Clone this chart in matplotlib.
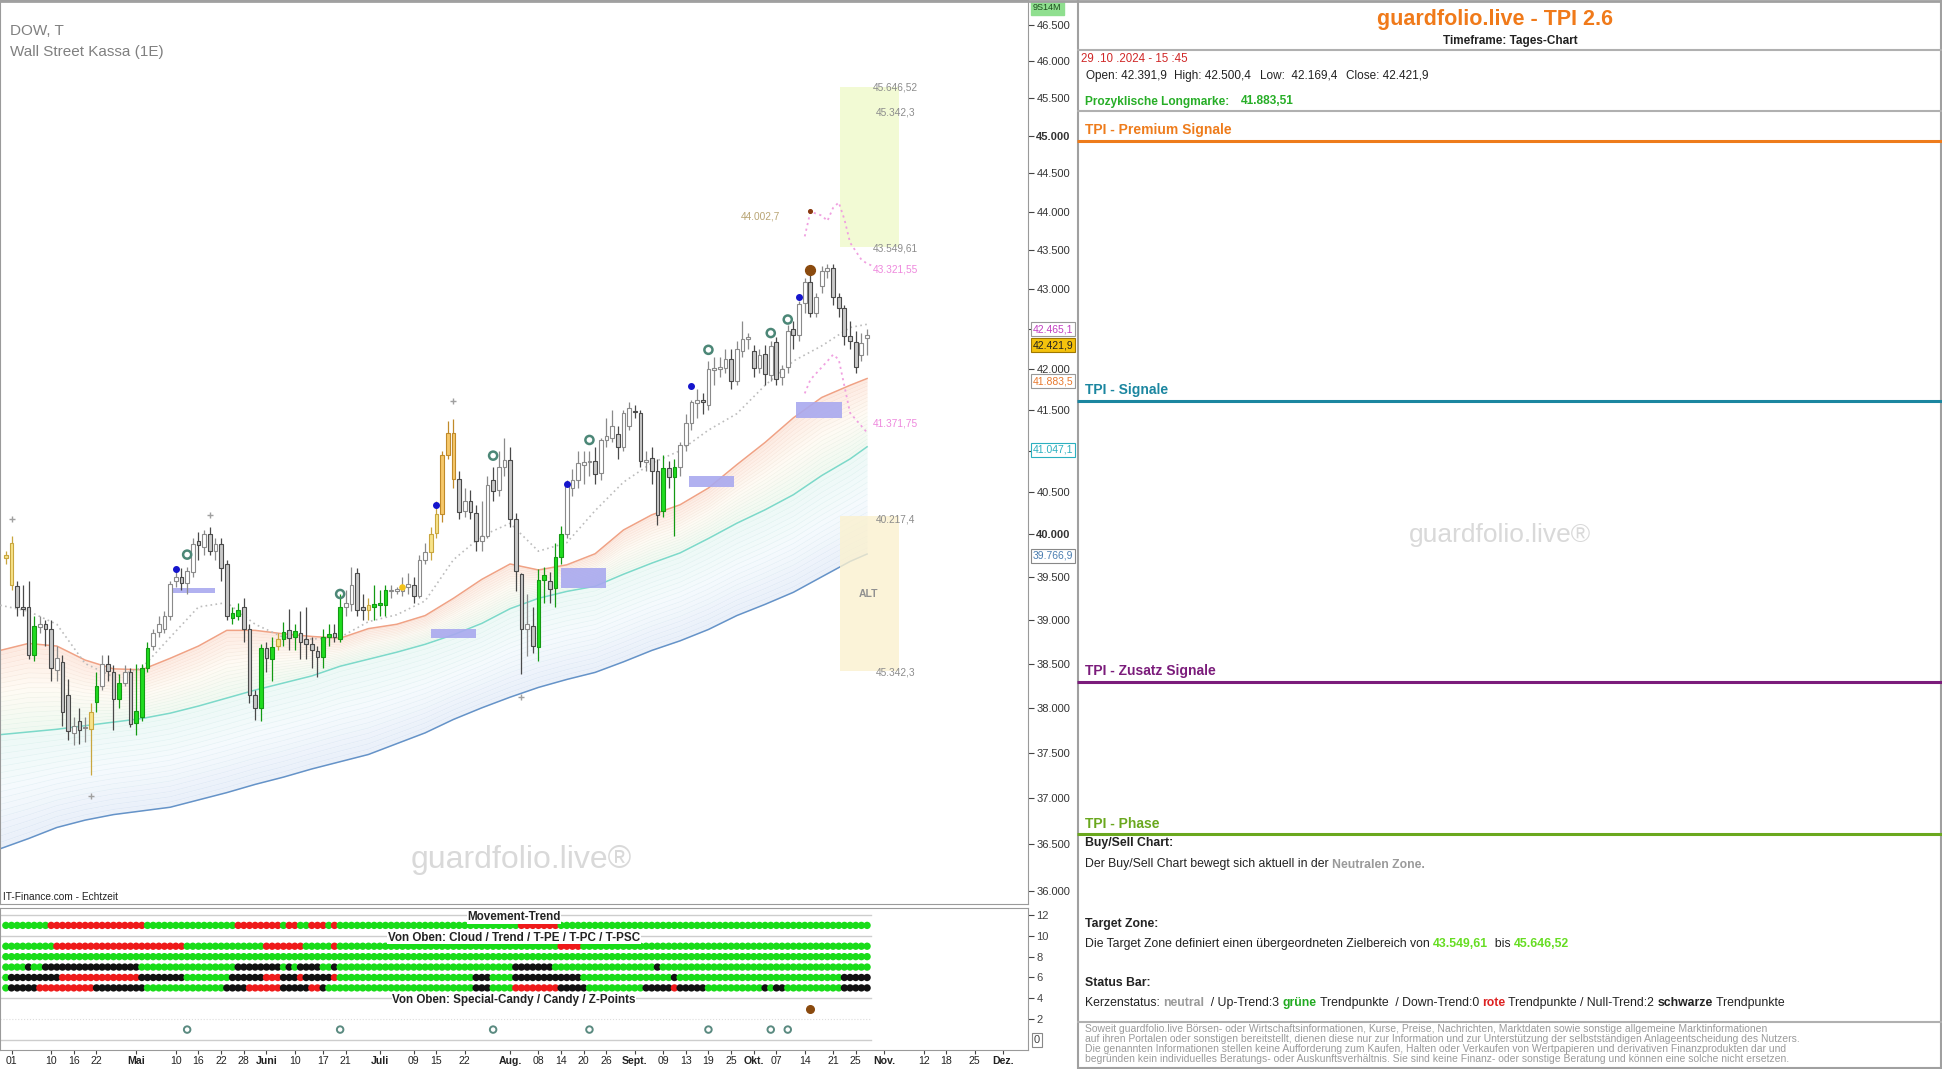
import numpy as np
import pandas as pd
import matplotlib
matplotlib.use("Agg")
import matplotlib.pyplot as plt
from matplotlib.patches import Rectangle
from matplotlib.ticker import NullLocator
from matplotlib.colors import to_rgb

plt.rcParams['font.family'] = ['Liberation Sans', 'DejaVu Sans']

# ---------------------------------------------------------------- data
first_day = '2024-03-29'          # first candle (index -1), 2024-04-01 is index 0
opens = [39720, 39900, 39390, 39150, 39150, 38600, 38920, 38950, 38900, 38430,
         38520, 38150, 37720, 37850, 37770, 37760, 38060, 38250, 38500, 38400,
         38100, 38280, 38400, 37830, 37900, 38450, 38700, 38860, 38900, 39050,
         39450, 39500, 39430, 39560, 39920, 39850, 40000, 39800, 39880, 39650,
         39020, 39050, 39150, 38900, 38150, 38000, 38680, 38550, 38700, 38780,
         38880, 38800, 38850, 38780, 38720, 38640, 38580, 38800, 38850, 38780,
         39150, 39180, 39550, 39150, 39120, 39150, 39170, 39170, 39330, 39340,
         39340, 39380, 39400, 39280, 39700, 39790, 40020, 40245, 40950, 41220,
         40660, 40270, 40400, 40255, 39920, 39980, 40650, 40530, 40800, 40890,
         40175, 39530, 38900, 38930, 38690, 39460, 39450, 39370, 39730, 40000,
         40550, 40650, 40830, 40860, 40880, 40730, 41130, 41150, 41200, 41050,
         41300, 41480, 41460, 40860, 40910, 40750, 40280, 40790, 40680, 40800,
         41070, 41340, 41580, 41620, 41560, 41990, 42000, 42020, 42130, 41850,
         42230, 42380, 42230, 42010, 42190, 41930, 42340, 41900, 42030, 42500,
         42430, 42830, 43100, 42700, 43040, 43240, 43280, 42900, 42760, 42410,
         42340, 42180, 42391.9]
highs = [39800, 39980, 39450, 39400, 39450, 39050, 39050, 39000, 39000, 38700,
         38600, 38330, 37900, 38000, 37900, 38050, 38400, 38600, 38600, 38480,
         38380, 38480, 38450, 38500, 38500, 38750, 38900, 39050, 39100, 39450,
         39600, 39600, 39620, 39950, 40030, 40050, 40080, 39950, 39950, 39700,
         39150, 39200, 39250, 38950, 38200, 38720, 38750, 38800, 38850, 38980,
         39130, 38950, 39100, 39150, 38800, 38700, 38900, 38950, 38950, 39300,
         39350, 39620, 39600, 39300, 39250, 39400, 39350, 39400, 39400, 39380,
         39500, 39550, 39500, 39750, 39900, 40080, 40400, 41000, 41355, 41380,
         40750, 40550, 40530, 40350, 40400, 40700, 40800, 41000, 41150, 41050,
         40250, 39550, 39300, 39150, 39590, 39620, 39560, 39900, 40100, 40650,
         40780, 41000, 41000, 41000, 41050, 41150, 41400, 41500, 41300, 41500,
         41600, 41560, 41500, 41000, 41050, 40900, 40950, 40880, 40900, 41100,
         41450, 41620, 41750, 41700, 42100, 42150, 42150, 42250, 42250, 42350,
         42600, 42450, 42300, 42250, 42300, 42350, 42400, 42050, 42550, 42600,
         42850, 43150, 43180, 42950, 43300, 43320, 43330, 42950, 42800, 42600,
         42480, 42450, 42500.4]
lows = [39650, 39350, 39040, 39050, 38550, 38530, 38850, 38700, 38300, 38300,
        37800, 37640, 37590, 37600, 37620, 37250, 37950, 38200, 38300, 37750,
        38000, 38250, 37780, 37700, 37850, 38400, 38650, 38800, 38850, 39000,
        39380, 39350, 39300, 39500, 39700, 39750, 39750, 39700, 39450, 39000,
        38950, 39000, 38750, 38050, 37860, 37850, 38400, 38300, 38650, 38700,
        38650, 38650, 38550, 38550, 38450, 38350, 38450, 38700, 38750, 38750,
        39050, 39100, 39050, 39000, 39000, 39000, 39050, 39050, 39250, 39300,
        39280, 39300, 39200, 39250, 39650, 39700, 39950, 40150, 40900, 40550,
        40175, 40200, 40180, 39800, 39800, 39950, 40400, 40450, 40700, 40080,
        39330, 38380, 38590, 38620, 38530, 39200, 39200, 39150, 39650, 39950,
        40450, 40550, 40600, 40700, 40600, 40650, 41050, 41100, 40900, 41000,
        41250, 41400, 40800, 40750, 40600, 40110, 40200, 40550, 39980, 40700,
        41000, 41250, 41400, 41450, 41500, 41800, 41900, 41950, 41750, 41800,
        42150, 42250, 41900, 41950, 41800, 41850, 41800, 41800, 41950, 42250,
        42350, 42700, 42650, 42650, 42950, 43150, 42800, 42650, 42300, 42250,
        41950, 42100, 42169.4]
closes = [39760, 39400, 39150, 39130, 38600, 38930, 38950, 38900, 38450, 38560,
          37950, 37740, 37800, 37750, 37780, 37950, 38250, 38500, 38420, 38100,
          38280, 38400, 37820, 37960, 38450, 38680, 38850, 38950, 39050, 39420,
          39500, 39430, 39570, 39890, 39870, 40000, 39800, 39880, 39600, 39050,
          39080, 39120, 38900, 38150, 38000, 38680, 38560, 38690, 38780, 38860,
          38790, 38870, 38750, 38720, 38650, 38580, 38800, 38840, 38800, 39150,
          39200, 39400, 39120, 39120, 39170, 39180, 39200, 39350, 39350, 39350,
          39390, 39420, 39280, 39700, 39790, 40000, 40245, 40950, 41220, 40660,
          40260, 40400, 40260, 39920, 39980, 40590, 40510, 40800, 40890, 40175,
          39570, 38900, 38950, 38700, 39460, 39520, 39360, 39730, 40000, 40610,
          40650, 40850, 40860, 40880, 40720, 41130, 41180, 41300, 41050, 41460,
          41520, 41470, 40870, 40890, 40750, 40230, 40790, 40680, 40800, 41070,
          41340, 41590, 41620, 41590, 42000, 42010, 42030, 42130, 41850, 42250,
          42370, 42400, 42010, 42180, 41940, 42290, 41880, 42000, 42480, 42430,
          42810, 43100, 42700, 42900, 43240, 43270, 42900, 42760, 42410, 42350,
          42030, 42330, 42421.9]
# w = white/up, g = grey/down, G = green, y = yellow, o = orange special candle
candle_kind = ("yygggGwggw" "ggwgwyGwgg" "GwgGGGwwww" "wgwwgwgwgg" "GGgggGgGyG"
               "gGggggGGgG" "wwggyGGGww" "wwgwwyyooo" "gwggwwgwwg" "ggwgGGgGGw"
               "wwwwgwwwgw" "wggwggGgGw" "wwwgwwwwgw" "wwgwgwgwwg" "wwgwwwgggg" "gww")

# moving-average ribbon, sampled every 5 candles
ribbon_x = [-2, 3, 8, 13, 18, 23, 28, 33, 38, 43, 48, 53, 58, 63, 68, 73,
            78, 83, 88, 93, 98, 103, 108, 113, 118, 123, 128, 133, 138, 143, 148, 151]
ma_orange = [38650, 38730, 38700, 38540, 38440, 38430, 38560, 38700, 38880, 38880,
             38840, 38810, 38790, 38900, 38950, 39050, 39250, 39470, 39650, 39580,
             39640, 39770, 40050, 40230, 40350, 40550, 40830, 41100, 41400, 41650,
             41800, 41883.5]
ma_teal = [37700, 37730, 37760, 37800, 37840, 37880, 37940, 38020, 38110, 38200,
           38280, 38360, 38470, 38550, 38630, 38720, 38830, 38960, 39130, 39250,
           39330, 39390, 39530, 39660, 39780, 39950, 40130, 40290, 40470, 40700,
           40900, 41047.1]
ma_blue = [36450, 36560, 36680, 36760, 36820, 36860, 36900, 36980, 37060, 37150,
           37230, 37320, 37400, 37480, 37600, 37720, 37870, 38000, 38120, 38230,
           38320, 38400, 38520, 38650, 38760, 38890, 39050, 39180, 39320, 39500,
           39680, 39766.9]
ma_dotted = [39170, 39100, 38950, 38500, 38350, 38450, 38800, 39150, 39200, 38950,
             38800, 38780, 38800, 38980, 39060, 39220, 39700, 39980, 40130, 39800,
             39900, 40280, 40620, 40850, 41000, 41250, 41450, 41800, 42100, 42290,
             42520, 42560]

# projection paths (pink dotted)
proj_hi_x = [140, 141, 143, 144, 145, 146, 147, 148, 150, 151, 152]
proj_hi = [43680, 44000, 43950, 43880, 44050, 44120, 43900, 43600, 43380, 43330, 43300]
proj_lo_x = [140, 141, 144, 145, 146, 147, 148, 150, 151]
proj_lo = [41700, 41870, 42100, 42180, 42120, 41790, 41460, 41300, 41220]

# violet boxes
box_start = [28.5, 74, 97, 119.5, 138.5]
box_end = [36, 82, 105, 127.5, 146.5]
box_low = [39310, 38790, 39370, 40560, 41400]
box_high = [39370, 38900, 39600, 40700, 41590]

# zones
target_low, target_high = 43549.61, 45646.52
alt_low, alt_high = 38420, 40217.4

# markers
plus_x = [0, 14, 35, 78, 90]
plus_y = [40180, 37020, 40230, 41610, 38120]
blue_x = [29, 75, 98, 120, 139]
blue_y = [39590, 40350, 40600, 41790, 42900]
yellow_x = [69]
yellow_y = [39380]
ring_x = [31, 58, 85, 102, 123, 134, 137]
ring_y = [39760, 39300, 40940, 41130, 42240, 42450, 42620]
special_x = [141]
special_y = [43250]
target_pt_x = [141]
target_pt_y = [44002.7]

# status bar rows: (first, last, colour) ; default green
rows_y = [11, 9, 8, 7, 6, 5]
row_movement = [(7, 23, 'R'), (40, 47, 'R'), (49, 50, 'R'), (53, 55, 'R'), (57, 57, 'R'), (90, 96, 'R')]
row_cloud = [(8, 30, 'R'), (45, 51, 'R'), (57, 57, 'R'), (97, 100, 'R')]
row_trend = []
row_tpe = [(3, 3, 'K'), (6, 22, 'K'), (40, 47, 'K'), (49, 49, 'K'), (51, 54, 'K'), (57, 57, 'K'),
           (89, 95, 'K'), (114, 114, 'K')]
row_tpc = [(0, 8, 'K'), (9, 22, 'R'), (23, 30, 'K'), (39, 44, 'K'), (45, 47, 'R'), (48, 50, 'K'),
           (51, 51, 'R'), (52, 56, 'K'), (57, 57, 'R'), (82, 84, 'K'), (89, 100, 'K'),
           (117, 117, 'K'), (147, 151, 'K')]
row_tpsc = [(0, 4, 'K'), (5, 14, 'R'), (15, 23, 'K'), (38, 41, 'K'), (42, 47, 'R'), (48, 52, 'K'),
            (53, 54, 'R'), (55, 55, 'K'), (82, 84, 'K'), (89, 96, 'R'), (97, 101, 'K'),
            (112, 116, 'K'), (117, 117, 'R'), (118, 122, 'K'), (133, 133, 'K'),
            (135, 136, 'K'), (147, 151, 'K')]
candy_x = [141]
zpoint_x = [31, 58, 85, 102, 123, 134, 137]

tick_dates = ['2024-04-01', '2024-04-10', '2024-04-16', '2024-04-22', '2024-05-01', '2024-05-10',
              '2024-05-16', '2024-05-22', '2024-05-28', '2024-06-03', '2024-06-10', '2024-06-17',
              '2024-06-21', '2024-07-01', '2024-07-09', '2024-07-15', '2024-07-22', '2024-08-01',
              '2024-08-08', '2024-08-14', '2024-08-20', '2024-08-26', '2024-09-02', '2024-09-09',
              '2024-09-13', '2024-09-19', '2024-09-25', '2024-10-01', '2024-10-07', '2024-10-14',
              '2024-10-21', '2024-10-25', '2024-11-01', '2024-11-12', '2024-11-18', '2024-11-25',
              '2024-12-02']
tick_labels = ['01', '10', '16', '22', 'Mai', '10', '16', '22', '28', 'Juni', '10', '17', '21',
               'Juli', '09', '15', '22', 'Aug.', '08', '14', '20', '26', 'Sept.', '09', '13', '19',
               '25', 'Okt.', '07', '14', '21', '25', 'Nov.', '12', '18', '25', 'Dez.']
month_names = {'Mai', 'Juni', 'Juli', 'Aug.', 'Sept.', 'Okt.', 'Nov.', 'Dez.'}

price_ticks = list(range(36000, 46501, 500))

# ---------------------------------------------------------------- figure
W, H = 1942, 1069
fig = plt.figure(figsize=(W / 100, H / 100), dpi=100)
fig.patch.set_facecolor('white')


def fx(px):
    return px / W


def fy(py):
    return 1 - py / H


def mix(c1, c2, f):
    a, b = np.array(to_rgb(c1)), np.array(to_rgb(c2))
    return tuple(a + (b - a) * f)


def mix3(c1, c2, c3, f):
    return mix(c1, c2, f * 2) if f < 0.5 else mix(c2, c3, (f - 0.5) * 2)


MAIN_R, MAIN_B = 1028, 904
GRAY = '#9a9a9a'
ax = fig.add_axes([0, fy(MAIN_B), fx(MAIN_R), MAIN_B / H])
ax.set_yscale('log')
ax.set_xlim(-2.03, 179.4)
ax.set_ylim(35860, 46840)
for s in ax.spines.values():
    s.set_color(GRAY)
ax.xaxis.set_visible(False)
ax.yaxis.tick_right()
ax.set_yticks(price_ticks, labels=[f"{v / 1000:.3f}" for v in price_ticks])
ax.yaxis.set_minor_locator(NullLocator())
ax.tick_params(axis='y', which='major', length=4, pad=2, labelsize=8, colors='#444444', width=0.8)
for t in ax.get_yticklabels():
    t.set_color('#333333')
    if t.get_text() in ('45.000', '40.000'):
        t.set_fontweight('bold')

# ribbon
rx = np.array(ribbon_x, float)
lo_o, lo_t, lo_b = np.log(ma_orange), np.log(ma_teal), np.log(ma_blue)
N = 18
for k in range(N):
    f0, f1 = k / N, (k + 1) / N
    y0 = np.exp(lo_o + (lo_t - lo_o) * f0)
    y1 = np.exp(lo_o + (lo_t - lo_o) * f1)
    ax.fill_between(rx, y0, y1, color=mix3('#fde9e0', '#fffbf4', '#eff9f0', (f0 + f1) / 2), lw=0, zorder=1)
    ax.plot(rx, y0, color=mix('#f3b9a4', '#a6e0d0', f0), lw=0.5, alpha=0.2, zorder=1.2)
    z0 = np.exp(lo_t + (lo_b - lo_t) * f0)
    z1 = np.exp(lo_t + (lo_b - lo_t) * f1)
    ax.fill_between(rx, z0, z1, color=mix3('#edf9f6', '#f5fafd', '#e9eff9', (f0 + f1) / 2), lw=0, zorder=1)
    ax.plot(rx, z0, color=mix('#a6e0d0', '#a4bde3', f0), lw=0.5, alpha=0.18, zorder=1.2)
ax.plot(rx, ma_orange, color='#f0a285', lw=1.1, zorder=2)
ax.plot(rx, ma_teal, color='#7cd9ca', lw=1.1, zorder=2)
ax.plot(rx, ma_blue, color='#6593c8', lw=1.1, zorder=2)
ax.plot(rx, ma_dotted, color='#bcbcbc', lw=1.2, ls=(0, (1, 2)), zorder=3)

# zones
ZX0, ZX1 = 146.3, 156.7
ax.add_patch(Rectangle((ZX0, target_low), ZX1 - ZX0, target_high - target_low,
                       fc='#f2fad4', ec='none', zorder=0.8))
ax.add_patch(Rectangle((ZX0, alt_low), ZX1 - ZX0, alt_high - alt_low,
                       fc='#fbf1cf', ec='none', alpha=0.8, zorder=2.5))

# violet boxes
for a, b, lo, hi in zip(box_start, box_end, box_low, box_high):
    ax.add_patch(Rectangle((a, lo), b - a, hi - lo, fc='#a9a9ef', ec='none', alpha=0.9, zorder=4))

# projection paths
ax.plot(proj_hi_x, proj_hi, color='#f0a0e0', lw=1.3, ls=(0, (1.2, 2)), zorder=3)
ax.plot(proj_lo_x, proj_lo, color='#f0a0e0', lw=1.3, ls=(0, (1.2, 2)), zorder=3)

# candles
xc = np.arange(-1, -1 + len(closes))
o, h, l, c = (np.array(v, float) for v in (opens, highs, lows, closes))
face = {'w': 'white', 'g': '#c8c8c8', 'G': '#1fdc1f', 'y': '#f7e38a', 'o': '#f6c86a'}
edge = {'w': '#8a8a8a', 'g': '#4a4a4a', 'G': '#139a13', 'y': '#c9a63e', 'o': '#c08a2a'}
kinds = np.array(list(candle_kind))
for k in 'wgGyo':
    m = kinds == k
    ax.vlines(xc[m], l[m], h[m], color=edge[k], lw=0.9, zorder=5)
    bot = np.minimum(o[m], c[m])
    top = np.maximum(o[m], c[m])
    ax.bar(xc[m], np.maximum(top - bot, 14), bottom=bot, width=0.68, color=face[k],
           edgecolor=edge[k], linewidth=0.8, zorder=6)

# markers
ax.scatter(plus_x, plus_y, marker='+', s=22, color='#a0a0a0', lw=1, zorder=7)
ax.scatter(blue_x, blue_y, s=16, color='#1515cc', zorder=7)
ax.scatter(yellow_x, yellow_y, s=14, color='#f2c21a', zorder=7)
ax.scatter(ring_x, ring_y, s=34, facecolor='none', edgecolor='#4c8777', lw=1.8, zorder=7)
ax.scatter(special_x, special_y, s=50, color='#8a4a0e', zorder=7)
ax.scatter(target_pt_x, target_pt_y, s=7, color='#8a3a10', zorder=7)

# zone labels
lab = dict(fontsize=7.3, va='center', ha='left', zorder=8)
ax.text(152, 45640, '45.646,52', color='#8c8c8c', **lab)
ax.text(152.5, 45310, '45.342,3', color='#8c8c8c', **lab)
ax.text(152, 43520, '43.549,61', color='#8c8c8c', **lab)
ax.text(152, 43260, '43.321,55', color='#ee88dd', **lab)
ax.text(152, 41330, '41.371,75', color='#ee88dd', **lab)
ax.text(152.5, 40180, '40.217,4', color='#8c8c8c', **lab)
ax.text(152.5, 38400, '45.342,3', color='#8c8c8c', **lab)
ax.text(135.6, 43940, '44.002,7', color='#b9a574', fontsize=7.3, va='center', ha='right', zorder=8)
ax.text(151.3, 39300, 'ALT', color='#909090', fontsize=7.5, fontweight='bold', ha='center', va='center', zorder=8)

# texts in main chart
ax.text(10 / MAIN_R, 1 - 31 / MAIN_B, 'DOW, T', transform=ax.transAxes, fontsize=11,
        color='#808080', va='center', ha='left')
ax.text(10 / MAIN_R, 1 - 52 / MAIN_B, 'Wall Street Kassa (1E)', transform=ax.transAxes,
        fontsize=11, color='#808080', va='center', ha='left')
ax.text(3 / MAIN_R, 1 - 897 / MAIN_B, 'IT-Finance.com - Echtzeit', transform=ax.transAxes,
        fontsize=7.3, color='#222222', va='center', ha='left')
ax.text(521 / MAIN_R, 1 - 860 / MAIN_B, 'guardfolio.live\u00ae', transform=ax.transAxes,
        fontsize=23, color='#d9d9d9', va='center', ha='center', zorder=0.5)

# value tags
tag_kw = dict(transform=ax.transAxes, ha='left', va='center', fontsize=7.5, clip_on=False, zorder=20)
ax.text(1 + 5 / MAIN_R, 1 - 8 / MAIN_B, '9S14M', color='#1d4d1d', fontsize=6.5,
        transform=ax.transAxes, ha='left', va='center', clip_on=False, zorder=20,
        bbox=dict(boxstyle='square,pad=0.25', fc='#8fdf8f', ec='#8fdf8f'))
tags = [(329, '42.465,1', '#c23ec2', 'white', '#999999'),
        (345, '42.421,9', '#222222', '#f4c20d', '#a07800'),
        (381, '41.883,5', '#e8782c', 'white', '#999999'),
        (450, '41.047,1', '#2bb0c0', 'white', '#2bb0c0'),
        (556, '39.766,9', '#4a7db0', 'white', '#888888')]
for py, s, tc, fc, ec in tags:
    ax.text(1 + 5 / MAIN_R, 1 - py / MAIN_B, s, color=tc,
            bbox=dict(boxstyle='square,pad=0.15', fc=fc, ec=ec, lw=0.8), **tag_kw)

# ---------------------------------------------------------------- status bar panel
ax2 = fig.add_axes([0, fy(1050), fx(MAIN_R), (1050 - 908) / H])
ax2.set_xlim(-2.03, 179.4)
ax2.set_ylim(-0.96, 12.67)
for s in ax2.spines.values():
    s.set_color(GRAY)
ax2.yaxis.tick_right()
ax2.set_yticks([2, 4, 6, 8, 10, 12])
ax2.yaxis.set_minor_locator(NullLocator())
ax2.tick_params(axis='y', length=4, pad=2, labelsize=8, colors='#444444', width=0.8)
ax2.text(1 + 6 / MAIN_R, 0, '0', transform=ax2.get_yaxis_transform(), fontsize=8,
         color='#444444', ha='left', va='center', clip_on=False,
         bbox=dict(boxstyle='square,pad=0.2', fc='white', ec='#888888', lw=0.8))

all_days = pd.bdate_range(first_day, '2024-12-31')
pos = {d: k - 1 for k, d in enumerate(all_days)}
ax2.set_xticks([pos[pd.Timestamp(d)] for d in tick_dates], labels=tick_labels)
ax2.xaxis.set_minor_locator(NullLocator())
ax2.tick_params(axis='x', length=3, pad=1.5, labelsize=7.6, colors='#444444', width=0.8)
for t in ax2.get_xticklabels():
    t.set_color('#222222')
    if t.get_text() in month_names:
        t.set_fontweight('bold')

xend = 151.7
for yv in (12, 10, 4, 0):
    ax2.plot([-2, xend], [yv, yv], color='#cdcdcd', lw=1, zorder=1)
for yv in (2, 6, 8):
    ax2.plot([-2, xend], [yv, yv], color='#dddddd', lw=0.8, ls=':', zorder=1)

dot_col = {'G': '#19dc19', 'R': '#ee1a1a', 'K': '#111111'}
idx_all = np.arange(-1, 152)
for yv, segs in zip(rows_y, [row_movement, row_cloud, row_trend, row_tpe, row_tpc, row_tpsc]):
    cols = np.array(['G'] * len(idx_all), dtype=object)
    for a, b, cc in segs:
        cols[(idx_all >= a) & (idx_all <= b)] = cc
    ax2.scatter(idx_all, np.full(len(idx_all), yv), s=28, c=[dot_col[v] for v in cols],
                linewidths=0, zorder=3)
ax2.scatter(candy_x, [3] * len(candy_x), s=30, color='#8a4a0e', zorder=3)
ax2.scatter(zpoint_x, [1] * len(zpoint_x), s=22, facecolor='none', edgecolor='#5a8a80', lw=1.4, zorder=3)

lbl = dict(transform=ax2.get_yaxis_transform(), ha='center', va='center', fontsize=8.4,
           fontweight='bold', color='#222222', zorder=5,
           bbox=dict(boxstyle='square,pad=0.05', fc='white', ec='none'))
ax2.text(0.5, 11.8, 'Movement-Trend', **lbl)
ax2.text(0.5, 9.8, 'Von Oben: Cloud / Trend / T-PE / T-PC / T-PSC', **lbl)
ax2.text(0.5, 3.85, 'Von Oben: Special-Candy / Candy / Z-Points', **lbl)

# ---------------------------------------------------------------- right info panel
axr = fig.add_axes([fx(1077), 0, fx(W - 1077), 1])
axr.set_xlim(1077, W)
axr.set_ylim(H, 0)
axr.axis('off')


def hline(y, color='#b0b0b0', lw=1.5):
    axr.plot([1077, W], [y, y], color=color, lw=lw, solid_capstyle='butt', clip_on=False)


def runs(x, y, parts, size=8.8):
    t = axr.text(x, y, parts[0][0], color=parts[0][1], fontweight=parts[0][2],
                 fontsize=size, va='center', ha='left')
    for s, col, wt in parts[1:]:
        t = axr.annotate(s, xy=(1, 0), xycoords=t, va='bottom', ha='left',
                         color=col, fontweight=wt, fontsize=size)
    return t


axr.plot([1078, 1078], [0, H], color='#a0a0a0', lw=1.5, clip_on=False)
axr.plot([W - 1, W - 1], [0, H], color='#a0a0a0', lw=1.5, clip_on=False)
hline(1, '#a0a0a0', 2)
hline(H - 1, '#a0a0a0', 1.5)

axr.text(1495, 20, 'guardfolio.live - TPI 2.6', color='#f07a1a', fontsize=15.5,
         fontweight='bold', ha='center', va='center')
axr.text(1510, 41, 'Timeframe: Tages-Chart', color='#222222', fontsize=8.5,
         fontweight='bold', ha='center', va='center')
hline(50)
axr.text(1081, 59.5, '29 .10 .2024 - 15 :45', color='#d02828', fontsize=8.3, va='center')
for xx, s in [(1086, 'Open: 42.391,9'), (1174, 'High: 42.500,4'),
              (1260, 'Low:  42.169,4'), (1346, 'Close: 42.421,9')]:
    axr.text(xx, 75.5, s, color='#222222', fontsize=8.5, va='center')
axr.text(1085, 101.5, 'Prozyklische Longmarke:', color='#27ae27', fontsize=8.6,
         fontweight='bold', va='center')
axr.text(1241, 101.5, '41.883,51', color='#27ae27', fontsize=8.6, fontweight='bold', va='center')
hline(111)

sections = [(130, 'TPI - Premium Signale', '#ee7c1c'),
            (390, 'TPI - Signale', '#1b86a0'),
            (671, 'TPI - Zusatz Signale', '#7b1c7b'),
            (823.6, 'TPI - Phase', '#6aa81e')]
for y, s, col in sections:
    axr.text(1085, y, s, color=col, fontsize=10, fontweight='bold', va='center')
    hline(y + 10.5, col, 2.2)

axr.text(1500, 535, 'guardfolio.live\u00ae', color='#d9d9d9', fontsize=19, ha='center', va='center')

BLK = '#222222'
runs(1085, 843.4, [('Buy/Sell Chart:', BLK, 'bold')])
runs(1085, 864.5, [('Der Buy/Sell Chart bewegt sich aktuell in der ', BLK, 'normal'),
                   ('Neutralen Zone.', '#9a9a9a', 'bold')])
runs(1085, 924, [('Target Zone:', BLK, 'bold')])
runs(1085, 943.7, [('Die Target Zone definiert einen \u00fcbergeordneten Zielbereich von ', BLK, 'normal'),
                   ('43.549,61', '#66dd22', 'bold'), ('  bis ', BLK, 'normal'),
                   ('45.646,52', '#66dd22', 'bold')])
runs(1085, 983.4, [('Status Bar:', BLK, 'bold')])
runs(1085, 1003, [('Kerzenstatus: ', BLK, 'normal'), ('neutral', '#9a9a9a', 'bold'),
                  ('  / Up-Trend:3 ', BLK, 'normal'), ('gr\u00fcne', '#22aa22', 'bold'),
                  (' Trendpunkte  / Down-Trend:0 ', BLK, 'normal'), ('rote', '#dd2222', 'bold'),
                  (' Trendpunkte / Null-Trend:2 ', BLK, 'normal'), ('schwarze', BLK, 'bold'),
                  (' Trendpunkte', BLK, 'normal')])
hline(1022)
disclaimer = [
    'Soweit guardfolio.live B\u00f6rsen- oder Wirtschaftsinformationen, Kurse, Preise, Nachrichten, Marktdaten sowie sonstige allgemeine Marktinformationen',
    'auf ihren Portalen oder sonstigen bereitstellt, dienen diese nur zur Information und zur Unterst\u00fctzung der selbstst\u00e4ndigen Anlageentscheidung des Nutzers.',
    'Die genannten Informationen stellen keine Aufforderung zum Kaufen, Halten oder Verkaufen von Wertpapieren und derivativen Finanzprodukten dar und',
    'begr\u00fcnden kein individuelles Beratungs- oder Auskunftsverh\u00e4ltnis. Sie sind keine Finanz- oder sonstige Beratung und k\u00f6nnen eine solche nicht ersetzen.']
for k, s in enumerate(disclaimer):
    axr.text(1085, 1029 + 10 * k, s, color='#9a9a9a', fontsize=7.5, va='center')

# top / left frame of the chart part
fig.add_artist(plt.Line2D([0, fx(1077)], [fy(1), fy(1)], color='#a0a0a0', lw=2))

fig.savefig('out.png', dpi=100, facecolor='white')
